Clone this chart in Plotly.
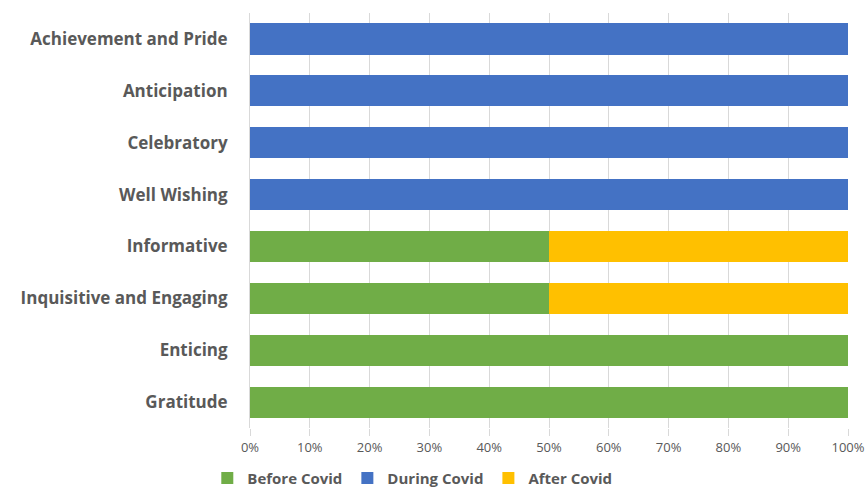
import plotly.graph_objects as go

categories = ["Achievement and Pride", "Anticipation", "Celebratory", "Well Wishing",
              "Informative", "Inquisitive and Engaging", "Enticing", "Gratitude"]
before_covid = [0, 0, 0, 0, 50, 50, 100, 100]
during_covid = [100, 100, 100, 100, 0, 0, 0, 0]
after_covid = [0, 0, 0, 0, 50, 50, 0, 0]
tick_vals = [0, 10, 20, 30, 40, 50, 60, 70, 80, 90, 100]
tick_text = [f"{v}%" for v in tick_vals]

fig = go.Figure()
for name, vals, col in [("Before Covid", before_covid, "#70AD47"),
                        ("During Covid", during_covid, "#4472C4"),
                        ("After Covid", after_covid, "#FFC000")]:
    fig.add_trace(go.Bar(y=categories, x=vals, name=name, orientation="h",
                         marker=dict(color=col, line=dict(width=0))))

fig.update_layout(
    barmode="stack", bargap=0.4,
    width=868, height=488,
    margin=dict(l=250, r=20, t=13, b=60, autoexpand=False),
    plot_bgcolor="white", paper_bgcolor="white",
    font=dict(family="Open Sans", color="#595959"),
    legend=dict(orientation="h", xref="container", yref="container",
                x=0.475, xanchor="center", y=0.02, yanchor="middle",
                font=dict(size=15, color="#595959", family="Open Sans", weight="bold"),
                itemwidth=30, traceorder="normal"),
    showlegend=True,
)
fig.update_xaxes(range=[0, 100], tickvals=tick_vals, ticktext=tick_text,
                 showgrid=True, gridcolor="#d9d9d9", gridwidth=1,
                 ticks="outside", ticklen=7, tickcolor="#d9d9d9",
                 tickfont=dict(size=13, color="#595959"), zeroline=False,
                 automargin=False, fixedrange=True)
fig.update_yaxes(categoryorder="array", categoryarray=categories, autorange="reversed",
                 showline=True, linecolor="#d9d9d9", linewidth=1,
                 ticks="", ticklabelstandoff=18, automargin=False,
                 tickfont=dict(size=17, color="#595959", family="Open Sans", weight="bold"))

fig.write_html("out.html")
